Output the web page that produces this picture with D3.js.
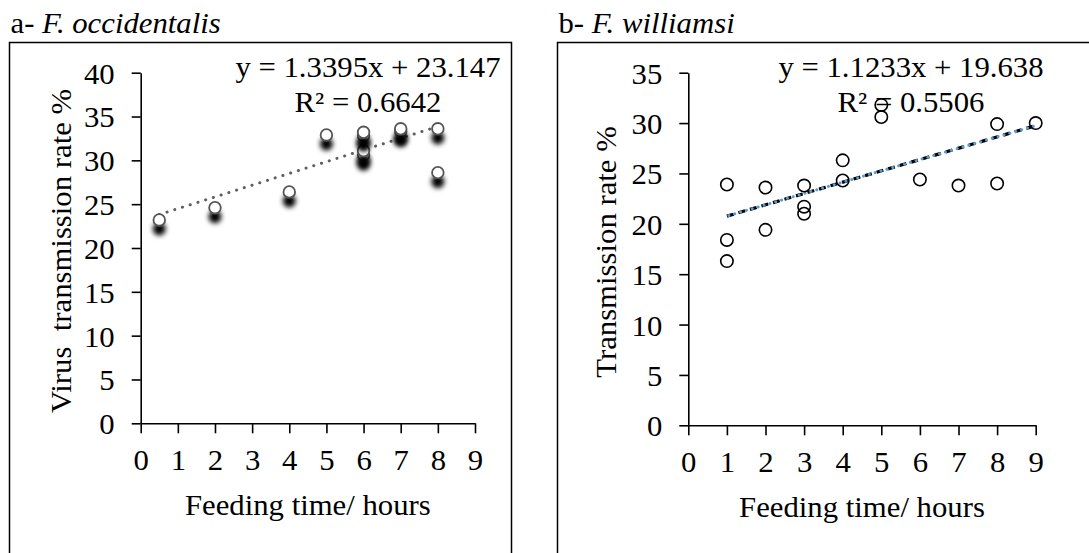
<!DOCTYPE html>
<html>
<head>
<meta charset="utf-8">
<script src="https://cdn.jsdelivr.net/npm/d3@7"></script>
<style>
  body { margin: 0; background: #fff; }
  text { font-family: "Liberation Serif", "Times New Roman", serif; font-size: 29px; fill: #000; }
</style>
</head>
<body>
<svg width="1089" height="553"></svg>
<script>
// panel a - F. occidentalis
const xA = [0.5, 2, 4, 5, 6, 6, 6, 6, 7, 7, 8, 8]
const yA = [23.2, 24.6, 26.4, 32.9, 30.6, 31.1, 32.8, 33.2, 33.3, 33.6, 28.6, 33.6]
const ticksAx = [0, 1, 2, 3, 4, 5, 6, 7, 8, 9]
const ticksAy = [0, 5, 10, 15, 20, 25, 30, 35, 40]
const fitA = { slope: 1.3395, intercept: 23.147, r2: '0.6642' }

// panel b - F. williamsi
const xB = [1, 1, 1, 2, 2, 3, 3, 3, 4, 4, 5, 5, 6, 7, 8, 8, 9]
const yB = [23.9, 18.4, 16.3, 23.6, 19.4, 23.8, 21.7, 21.0, 26.3, 24.3, 31.8, 30.6, 24.4, 23.8, 29.9, 24.0, 30.0]
const ticksBx = [0, 1, 2, 3, 4, 5, 6, 7, 8, 9]
const ticksBy = [0, 5, 10, 15, 20, 25, 30, 35]
const fitB = { slope: 1.1233, intercept: 19.638, r2: '0.5506' }

const svg = d3.select('svg')
const SX = 1.06   // glyphs in the picture are a bit wider than Times

const defs = svg.append('defs')
defs.append('filter').attr('id', 'shadow')
  .attr('x', '-100%').attr('y', '-100%').attr('width', '300%').attr('height', '300%')
  .append('feGaussianBlur').attr('stdDeviation', 2.4)

function label(g, txt, x, y, anchor, rot) {
  return g.append('text')
    .attr('transform', `translate(${x},${y}) rotate(${rot || 0}) scale(${SX},1)`)
    .attr('text-anchor', anchor || 'middle')
    .style('white-space', 'pre')
    .text(txt)
}

function drawPanel(p) {
  const g = svg.append('g')

  // frame
  g.append('rect')
    .attr('x', p.box[0]).attr('y', p.box[1])
    .attr('width', p.box[2]).attr('height', 600)
    .attr('fill', 'none').attr('stroke', '#000').attr('stroke-width', 1.5)

  // title
  const t = g.append('text')
    .attr('transform', `translate(${p.box[0] + 1},33) scale(${SX},1)`)
  t.append('tspan').text(p.prefix)
  t.append('tspan').attr('font-style', 'italic').text(p.species)

  const xScale = d3.scaleLinear().domain([0, 9]).range([p.x0, p.x1])
  const yScale = d3.scaleLinear().domain([0, p.ymax]).range([p.y0, p.y1])

  const xAxis = d3.axisBottom(xScale).tickValues(p.tx).tickSize(10).tickSizeOuter(0)
  const yAxis = d3.axisLeft(yScale).tickValues(p.ty).tickSize(9).tickSizeOuter(0)

  const xAxisG = g.append('g')
    .attr('transform', `translate(0,${p.y0})`)
    .call(xAxis)
  xAxisG.selectAll('text')
    .attr('y', 0).attr('dy', 0)
    .attr('transform', `translate(0,47) scale(${SX},1)`)
  const yAxisG = g.append('g')
    .attr('transform', `translate(${p.x0},0)`)
    .call(yAxis)
  yAxisG.selectAll('text')
    .attr('x', 0).attr('dy', '0.36em')
    .attr('transform', `translate(-26,0) scale(${SX},1)`)
  g.selectAll('.domain, .tick line').attr('stroke', '#000').attr('stroke-width', 1.6)

  // axis titles
  label(g, 'Feeding time/ hours', (p.x0 + p.x1) / 2, p.xTitleY)
  label(g, p.yTitle, p.yTitleX, p.yTitleY, 'middle', -90)

  // trend line
  const ext = d3.extent(p.xs)
  const fitPts = ext.map(x => [x, p.fit.slope * x + p.fit.intercept])
  const line = d3.line().x(d => xScale(d[0])).y(d => yScale(d[1]))

  if (p.shadow) {
    g.append('path').datum(fitPts)
      .attr('d', line)
      .attr('fill', 'none').attr('stroke', '#5f5f5f').attr('stroke-width', 3)
      .attr('stroke-linecap', 'round').attr('stroke-dasharray', '0.1,8')
  } else {
    g.append('path').datum(fitPts)
      .attr('d', line)
      .attr('fill', 'none').attr('stroke', '#000').attr('stroke-width', 3.2)
      .attr('stroke-dasharray', '7,5')
    g.append('path').datum(fitPts)
      .attr('d', line)
      .attr('fill', 'none').attr('stroke', '#5b9bd5').attr('stroke-width', 3)
      .attr('stroke-linecap', 'round').attr('stroke-dasharray', '0.1,6')
      .attr('stroke-dashoffset', -2)
  }

  // equation
  label(g, `y = ${p.fit.slope}x + ${p.fit.intercept}`, p.eqX, 77)
  label(g, `R² = ${p.fit.r2}`, p.eqX, 112)

  // points
  const pts = p.xs.map((x, i) => ({ x: x, y: p.ys[i] }))
  const pg = g.selectAll('g.pt').data(pts).enter().append('g').attr('class', 'pt')
  if (p.shadow) {
    pg.append('circle')
      .attr('cx', d => xScale(d.x))
      .attr('cy', d => yScale(d.y) + 9)
      .attr('r', 6.5)
      .attr('fill', '#000')
      .attr('filter', 'url(#shadow)')
    pg.append('circle')
      .attr('cx', d => xScale(d.x))
      .attr('cy', d => yScale(d.y))
      .attr('r', 5.8)
      .attr('fill', '#fff')
      .attr('stroke', '#555')
      .attr('stroke-width', 1.8)
  } else {
    pg.append('circle')
      .attr('cx', d => xScale(d.x))
      .attr('cy', d => yScale(d.y))
      .attr('r', 6.2)
      .attr('fill', 'none')
      .attr('stroke', '#000')
      .attr('stroke-width', 1.6)
  }
}

drawPanel({
  box: [9.5, 42.5, 502], prefix: 'a- ', species: 'F. occidentalis',
  x0: 140.7, x1: 475, y0: 423.3, y1: 72.7, ymax: 40,
  tx: ticksAx, ty: ticksAy, xs: xA, ys: yA, fit: fitA, shadow: true,
  xTitleY: 515, yTitle: 'Virus  transmission rate %', yTitleX: 71, yTitleY: 251,
  eqX: 368
})

drawPanel({
  box: [557.5, 42.5, 600], prefix: 'b- ', species: 'F. williamsi',
  x0: 688.3, x1: 1035.7, y0: 425.3, y1: 72.7, ymax: 35,
  tx: ticksBx, ty: ticksBy, xs: xB, ys: yB, fit: fitB, shadow: false,
  xTitleY: 516.5, yTitle: 'Transmission rate %', yTitleX: 616, yTitleY: 252,
  eqX: 911
})
</script>
</body>
</html>
